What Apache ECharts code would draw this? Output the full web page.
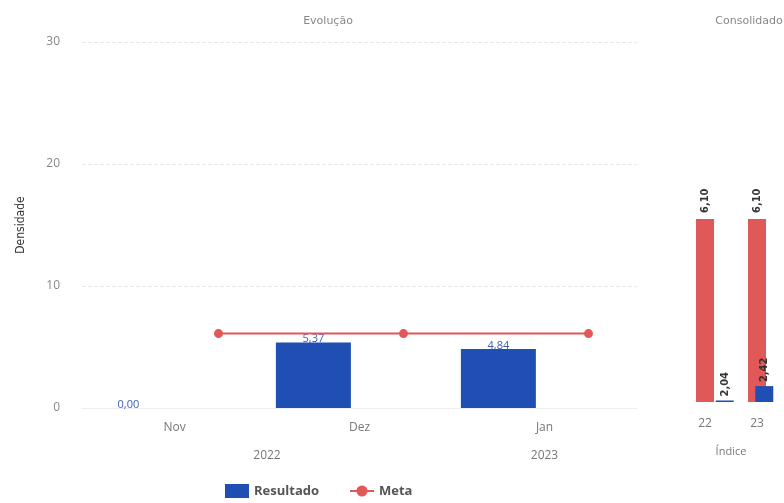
<!DOCTYPE html>
<html>
<head>
<meta charset="utf-8">
<script src="https://cdn.jsdelivr.net/npm/echarts@6/dist/echarts.min.js"></script>
<style>html,body{margin:0;padding:0;background:#fff}#c{width:784px;height:503px}</style>
</head>
<body>
<div id="c"></div>
<script>
// ---- data ----
const months = ['Nov', 'Dez', 'Jan'];
const yearLabels = { 1: '2022', 2.5: '2023' };
const resultado = [0.00, 5.37, 4.84];
const meta = [6.10, 6.10, 6.10];
const consCats = ['22', '23'];
const consMeta = [6.10, 6.10];
const consResultado = [2.04, 2.42];

const blue = '#1f4fb3';
const red = '#e05858';
const narrow = "'DejaVu Sans Condensed', 'Liberation Sans Narrow', Roboto, sans-serif";
const fmt = v => v.toFixed(2).replace('.', ',');

const chart = echarts.init(document.getElementById('c'), null, { renderer: 'canvas' });
chart.setOption({
  animation: false,
  backgroundColor: '#fff',
  title: [
    { text: 'Evolução', left: 323, top: 11, textAlign: 'center',
      textStyle: { fontSize: 11, fontWeight: 'normal', color: '#888', fontFamily: 'DejaVu Sans' } },
    { text: 'Consolidado', left: 744, top: 11, textAlign: 'center',
      textStyle: { fontSize: 11, fontWeight: 'normal', color: '#888', fontFamily: 'DejaVu Sans' } }
  ],
  legend: {
    bottom: 0, left: 220, itemGap: 30, itemWidth: 24, itemHeight: 14,
    textStyle: { fontSize: 13, fontWeight: 'bold', color: '#555', fontFamily: 'Open Sans' },
    data: [{ name: 'Resultado', icon: 'rect' }, { name: 'Meta' }]
  },
  grid: [
    { left: 82, top: 42, width: 555, bottom: 95 },
    { left: 126, top: 42, width: 555, bottom: 95 },
    { left: 679, top: 42, width: 104, bottom: 101 },
    { left: 705, top: 42, width: 104, bottom: 101 },
    { left: 82, top: 42, width: 555, bottom: 95 }
  ],
  xAxis: [
    { type: 'category', gridIndex: 0, data: months,
      axisLine: { show: true, lineStyle: { color: '#eee' } }, axisTick: { show: false },
      axisLabel: { color: '#777', fontSize: 12, margin: 14, fontFamily: 'Open Sans' } },
    { type: 'category', gridIndex: 1, data: months, show: false },
    { type: 'category', gridIndex: 2, data: consCats,
      axisLine: { show: false }, axisTick: { show: false },
      axisLabel: { color: '#777', fontSize: 12, margin: 16, fontFamily: 'Open Sans' },
      name: 'Índice', nameLocation: 'middle', nameGap: 44,
      nameTextStyle: { color: '#777', fontSize: 11, fontFamily: 'Open Sans' } },
    { type: 'category', gridIndex: 3, data: consCats, show: false },
    { type: 'value', gridIndex: 4, min: 0, max: 3, interval: 0.5, position: 'bottom', offset: 28,
      axisLine: { show: false }, axisTick: { show: false }, splitLine: { show: false },
      axisLabel: { color: '#777', fontSize: 12, margin: 14, fontFamily: 'Open Sans',
        formatter: v => yearLabels[v] || '' } }
  ],
  yAxis: [
    { type: 'value', gridIndex: 0, min: 0, max: 30, interval: 10,
      name: 'Densidade', nameLocation: 'middle', nameGap: 55, nameRotate: 90,
      nameTextStyle: { color: '#333', fontSize: 12, fontFamily: narrow },
      axisLine: { show: false }, axisTick: { show: false },
      axisLabel: { color: '#888', fontSize: 12, margin: 22, fontFamily: 'Open Sans' },
      splitLine: { show: true, lineStyle: { color: '#e8e8e8', type: 'dashed' } } },
    { type: 'value', gridIndex: 1, min: 0, max: 30, show: false },
    { type: 'value', gridIndex: 2, min: 0, max: 12, show: false },
    { type: 'value', gridIndex: 3, min: 2, max: 11.5, show: false },
    { type: 'value', gridIndex: 4, min: 0, max: 30, show: false }
  ],
  series: [
    { name: 'Resultado', type: 'bar', xAxisIndex: 0, yAxisIndex: 0, data: resultado,
      barWidth: 75, barGap: '23%', itemStyle: { color: blue },
      label: { show: true, position: 'top', distance: -2, color: '#3d5fb5', fontSize: 11,
        fontFamily: 'Open Sans', formatter: p => fmt(p.value) } },
    { name: 'placeholder', type: 'bar', xAxisIndex: 0, yAxisIndex: 0, data: meta,
      barWidth: 75, itemStyle: { color: 'rgba(0,0,0,0)' }, silent: true, legendHoverLink: false },
    { name: 'Meta', type: 'line', xAxisIndex: 1, yAxisIndex: 1, data: meta,
      symbol: 'circle', symbolSize: 9, itemStyle: { color: red },
      lineStyle: { color: red, width: 2 } },
    { name: 'consMeta', type: 'bar', xAxisIndex: 2, yAxisIndex: 2, data: consMeta,
      barWidth: 18, itemStyle: { color: red },
      label: { show: true, position: 'top', rotate: 90, align: 'left', verticalAlign: 'middle',
        distance: 6, color: '#333', fontSize: 11, fontWeight: 'bold',
        fontFamily: narrow, formatter: p => fmt(p.value) } },
    { name: 'consResultado', type: 'bar', xAxisIndex: 3, yAxisIndex: 3, data: consResultado,
      barWidth: 18, itemStyle: { color: blue },
      label: { show: true, position: 'top', rotate: 90, align: 'left', verticalAlign: 'middle',
        distance: 4, color: '#333', fontSize: 11, fontWeight: 'bold',
        fontFamily: narrow, formatter: p => fmt(p.value) } }
  ]
});
</script>
</body>
</html>
